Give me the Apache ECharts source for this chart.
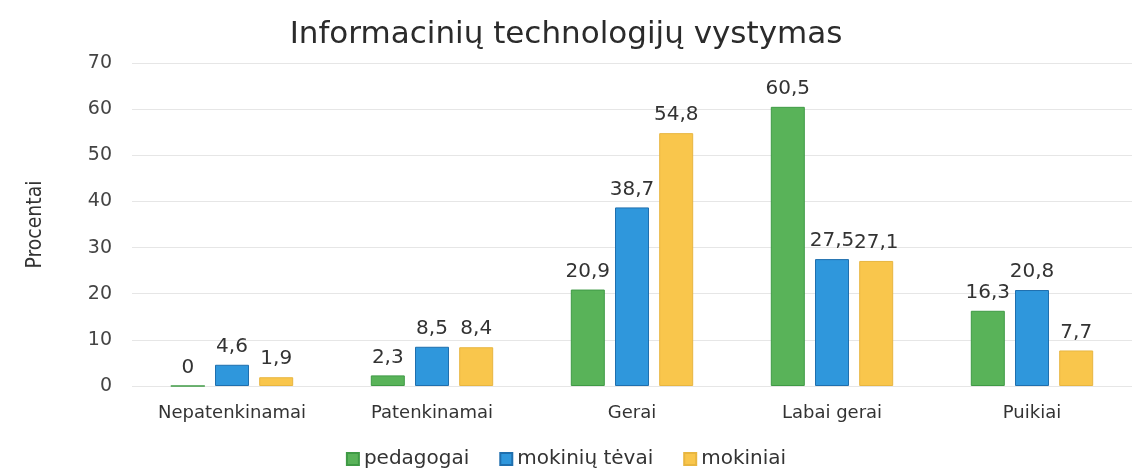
<!DOCTYPE html>
<html><head><meta charset="utf-8">
<script src="https://cdn.jsdelivr.net/npm/echarts@6/dist/echarts.min.js"></script>
<style>html,body{margin:0;padding:0;background:#fff}#c{width:1132px;height:470px}</style>
</head><body><div id="c"></div>
<script>
const categories = ['Nepatenkinamai', 'Patenkinamai', 'Gerai', 'Labai gerai', 'Puikiai'];
const seriesNames = ['pedagogai', 'mokinių tėvai', 'mokiniai'];
const pedagogai = [0, 2.3, 20.9, 60.5, 16.3];
const tevai = [4.6, 8.5, 38.7, 27.5, 20.8];
const mokiniai = [1.9, 8.4, 54.8, 27.1, 7.7];
const yTicks = [0, 10, 20, 30, 40, 50, 60, 70];
const colors = ['#59b359', '#2f97dc', '#f9c64c'];
const borders = ['#3f9a45', '#1f6fae', '#e8b640'];

const font = 'DejaVu Sans';
const chart = echarts.init(document.getElementById('c'));
const values = [pedagogai, tevai, mokiniai];
chart.setOption({
  animation: false,
  textStyle: {fontFamily: font},
  title: {text: 'Informacinių technologijų vystymas', left: 'center', top: 14,
    textStyle: {fontFamily: font, fontSize: 31, fontWeight: 'normal', color: '#2b2b2b'}},
  legend: {top: 444, left: 'center', itemWidth: 12, itemHeight: 12, itemGap: 30,
    icon: 'rect', textStyle: {fontFamily: font, fontSize: 20, color: '#333'}},
  grid: {left: 132, right: 0, top: 63, bottom: 84},
  xAxis: {type: 'category', data: categories,
    axisLine: {show: false}, axisTick: {show: false},
    axisLabel: {fontFamily: font, fontSize: 18, color: '#333', margin: 18}},
  yAxis: {type: 'value', min: yTicks[0], max: yTicks[yTicks.length - 1], interval: 10,
    name: 'Procentai', nameLocation: 'middle', nameGap: 86, nameRotate: 90,
    nameTextStyle: {fontFamily: 'DejaVu Sans Condensed', fontSize: 21, color: '#333'},
    axisLabel: {fontFamily: font, fontSize: 19, color: '#444', margin: 20},
    splitLine: {lineStyle: {color: '#e6e6e6'}}},
  series: seriesNames.map((n, i) => ({
    name: n, type: 'bar', data: values[i], barWidth: 34, barGap: '30%',
    itemStyle: {color: colors[i], borderColor: borders[i], borderWidth: 1},
    label: {show: true, position: 'top', distance: 8, fontFamily: font, fontSize: 20, color: '#333',
      formatter: p => String(p.value).replace('.', ',')}
  }))
});
</script></body></html>
